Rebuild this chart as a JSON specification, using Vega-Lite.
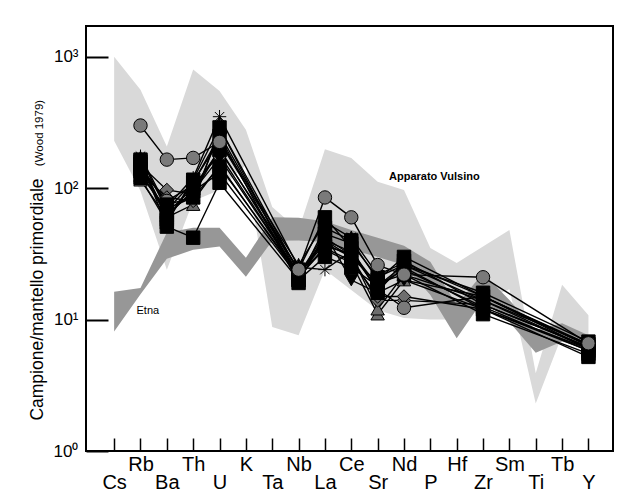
{
  "$schema": "https://vega.github.io/schema/vega-lite/v6.json",
  "width": 527,
  "height": 425,
  "autosize": {"type": "none"},
  "padding": {"left": 86, "top": 26, "right": 17, "bottom": 46},
  "background": "white",
  "config": {
    "view": {"stroke": "black", "strokeWidth": 2},
    "font": "Liberation Sans",
    "axis": {"labelFont": "Liberation Sans", "titleFont": "Liberation Sans"}
  },
  "datasets": {
    "vulsino": [
      {"el": "Cs", "v": 1000, "v2": 230}, {"el": "Rb", "v": 560, "v2": 95}, {"el": "Ba", "v": 208, "v2": 24},
      {"el": "Th", "v": 800, "v2": 80}, {"el": "U", "v": 550, "v2": 97}, {"el": "K", "v": 278, "v2": 150},
      {"el": "Ta", "v": 72, "v2": 8.8}, {"el": "Nb", "v": 48, "v2": 7.6}, {"el": "La", "v": 198, "v2": 24},
      {"el": "Ce", "v": 170, "v2": 16.8}, {"el": "Sr", "v": 112, "v2": 11.8}, {"el": "Nd", "v": 97, "v2": 10.3},
      {"el": "P", "v": 35, "v2": 10}, {"el": "Hf", "v": 27, "v2": 10}, {"el": "Zr", "v": 36, "v2": 14},
      {"el": "Sm", "v": 48, "v2": 17}, {"el": "Ti", "v": 3.9, "v2": 2.3}, {"el": "Tb", "v": 18.4, "v2": 7.6},
      {"el": "Y", "v": 10.8, "v2": 7.0}
    ],
    "etna": [
      {"el": "Cs", "v": 16.3, "v2": 8.1}, {"el": "Rb", "v": 17.4, "v2": 15.6}, {"el": "Ba", "v": 46, "v2": 29},
      {"el": "Th", "v": 50, "v2": 34}, {"el": "U", "v": 50, "v2": 36}, {"el": "K", "v": 29.5, "v2": 21.2},
      {"el": "Ta", "v": 60, "v2": 39.8}, {"el": "Nb", "v": 59.5, "v2": 40}, {"el": "La", "v": 56, "v2": 39},
      {"el": "Ce", "v": 48, "v2": 34}, {"el": "Sr", "v": 42, "v2": 30}, {"el": "Nd", "v": 36.4, "v2": 26},
      {"el": "P", "v": 27.5, "v2": 15.4}, {"el": "Hf", "v": 12.9, "v2": 7.2}, {"el": "Zr", "v": 22.6, "v2": 14.1},
      {"el": "Sm", "v": 14.1, "v2": 9.6}, {"el": "Ti", "v": 8.3, "v2": 5.6}, {"el": "Tb", "v": 9.4, "v2": 6.8},
      {"el": "Y", "v": 7.6, "v2": 5.9}
    ],
    "samples": [
      {"s": "T1", "el": "Rb", "v": 115}, {"s": "T1", "el": "Ba", "v": 60}, {"s": "T1", "el": "Th", "v": 75}, {"s": "T1", "el": "U", "v": 290}, {"s": "T1", "el": "Nb", "v": 23}, {"s": "T1", "el": "La", "v": 34}, {"s": "T1", "el": "Ce", "v": 27}, {"s": "T1", "el": "Sr", "v": 11}, {"s": "T1", "el": "Nd", "v": 20}, {"s": "T1", "el": "Zr", "v": 15}, {"s": "T1", "el": "Y", "v": 6.3},
      {"s": "T2", "el": "Rb", "v": 125}, {"s": "T2", "el": "Ba", "v": 70}, {"s": "T2", "el": "Th", "v": 85}, {"s": "T2", "el": "U", "v": 260}, {"s": "T2", "el": "Nb", "v": 22}, {"s": "T2", "el": "La", "v": 42}, {"s": "T2", "el": "Ce", "v": 31}, {"s": "T2", "el": "Sr", "v": 12}, {"s": "T2", "el": "Nd", "v": 22}, {"s": "T2", "el": "Zr", "v": 14}, {"s": "T2", "el": "Y", "v": 6.0},
      {"s": "D1", "el": "Rb", "v": 150}, {"s": "D1", "el": "Ba", "v": 97}, {"s": "D1", "el": "Th", "v": 90}, {"s": "D1", "el": "U", "v": 200}, {"s": "D1", "el": "Nb", "v": 22}, {"s": "D1", "el": "La", "v": 38}, {"s": "D1", "el": "Ce", "v": 30}, {"s": "D1", "el": "Sr", "v": 14}, {"s": "D1", "el": "Nd", "v": 14}, {"s": "D1", "el": "Zr", "v": 13}, {"s": "D1", "el": "Y", "v": 6.2},
      {"s": "D2", "el": "Rb", "v": 130}, {"s": "D2", "el": "Ba", "v": 85}, {"s": "D2", "el": "Th", "v": 80}, {"s": "D2", "el": "U", "v": 150}, {"s": "D2", "el": "Nb", "v": 21}, {"s": "D2", "el": "La", "v": 35}, {"s": "D2", "el": "Ce", "v": 28}, {"s": "D2", "el": "Sr", "v": 15}, {"s": "D2", "el": "Nd", "v": 15}, {"s": "D2", "el": "Zr", "v": 12}, {"s": "D2", "el": "Y", "v": 5.8},
      {"s": "C2", "el": "Rb", "v": 140}, {"s": "C2", "el": "Ba", "v": 80}, {"s": "C2", "el": "Th", "v": 105}, {"s": "C2", "el": "U", "v": 180}, {"s": "C2", "el": "Nb", "v": 22}, {"s": "C2", "el": "La", "v": 40}, {"s": "C2", "el": "Ce", "v": 33}, {"s": "C2", "el": "Sr", "v": 17}, {"s": "C2", "el": "Nd", "v": 12.3}, {"s": "C2", "el": "Zr", "v": 15}, {"s": "C2", "el": "Y", "v": 6.0},
      {"s": "S1", "el": "Rb", "v": 165}, {"s": "S1", "el": "Ba", "v": 51}, {"s": "S1", "el": "Th", "v": 42}, {"s": "S1", "el": "U", "v": 110}, {"s": "S1", "el": "Nb", "v": 20}, {"s": "S1", "el": "La", "v": 30}, {"s": "S1", "el": "Ce", "v": 25}, {"s": "S1", "el": "Sr", "v": 18}, {"s": "S1", "el": "Nd", "v": 24}, {"s": "S1", "el": "Zr", "v": 12.5}, {"s": "S1", "el": "Y", "v": 5.8},
      {"s": "S2", "el": "Rb", "v": 120}, {"s": "S2", "el": "Ba", "v": 55}, {"s": "S2", "el": "Th", "v": 116}, {"s": "S2", "el": "U", "v": 290}, {"s": "S2", "el": "Nb", "v": 20}, {"s": "S2", "el": "La", "v": 50}, {"s": "S2", "el": "Ce", "v": 40}, {"s": "S2", "el": "Sr", "v": 20}, {"s": "S2", "el": "Nd", "v": 30}, {"s": "S2", "el": "Zr", "v": 15}, {"s": "S2", "el": "Y", "v": 6.5},
      {"s": "S3", "el": "Rb", "v": 140}, {"s": "S3", "el": "Ba", "v": 65}, {"s": "S3", "el": "Th", "v": 100}, {"s": "S3", "el": "U", "v": 195}, {"s": "S3", "el": "Nb", "v": 24}, {"s": "S3", "el": "La", "v": 60}, {"s": "S3", "el": "Ce", "v": 35}, {"s": "S3", "el": "Sr", "v": 16}, {"s": "S3", "el": "Nd", "v": 28}, {"s": "S3", "el": "Zr", "v": 13}, {"s": "S3", "el": "Y", "v": 6.2},
      {"s": "S4", "el": "Rb", "v": 150}, {"s": "S4", "el": "Ba", "v": 75}, {"s": "S4", "el": "Th", "v": 85}, {"s": "S4", "el": "U", "v": 146}, {"s": "S4", "el": "Nb", "v": 22}, {"s": "S4", "el": "La", "v": 40}, {"s": "S4", "el": "Ce", "v": 30}, {"s": "S4", "el": "Sr", "v": 19}, {"s": "S4", "el": "Nd", "v": 22}, {"s": "S4", "el": "Zr", "v": 11}, {"s": "S4", "el": "Y", "v": 5.5},
      {"s": "S5", "el": "Rb", "v": 160}, {"s": "S5", "el": "Ba", "v": 58}, {"s": "S5", "el": "Th", "v": 110}, {"s": "S5", "el": "U", "v": 250}, {"s": "S5", "el": "Nb", "v": 19}, {"s": "S5", "el": "La", "v": 45}, {"s": "S5", "el": "Ce", "v": 38}, {"s": "S5", "el": "Sr", "v": 21}, {"s": "S5", "el": "Nd", "v": 26}, {"s": "S5", "el": "Zr", "v": 16}, {"s": "S5", "el": "Y", "v": 6.8},
      {"s": "S6", "el": "Rb", "v": 135}, {"s": "S6", "el": "Ba", "v": 62}, {"s": "S6", "el": "Th", "v": 95}, {"s": "S6", "el": "U", "v": 130}, {"s": "S6", "el": "Nb", "v": 21}, {"s": "S6", "el": "La", "v": 36}, {"s": "S6", "el": "Ce", "v": 32}, {"s": "S6", "el": "Sr", "v": 17}, {"s": "S6", "el": "Nd", "v": 25}, {"s": "S6", "el": "Zr", "v": 12}, {"s": "S6", "el": "Y", "v": 5.2},
      {"s": "V1", "el": "Rb", "v": 155}, {"s": "V1", "el": "Ba", "v": 62}, {"s": "V1", "el": "Th", "v": 95}, {"s": "V1", "el": "U", "v": 170}, {"s": "V1", "el": "Nb", "v": 22}, {"s": "V1", "el": "La", "v": 45}, {"s": "V1", "el": "Ce", "v": 20}, {"s": "V1", "el": "Sr", "v": 16}, {"s": "V1", "el": "Nd", "v": 20}, {"s": "V1", "el": "Zr", "v": 12}, {"s": "V1", "el": "Y", "v": 6.0},
      {"s": "X1", "el": "Rb", "v": 170}, {"s": "X1", "el": "Ba", "v": 68}, {"s": "X1", "el": "Th", "v": 112}, {"s": "X1", "el": "U", "v": 230}, {"s": "X1", "el": "Nb", "v": 26}, {"s": "X1", "el": "La", "v": 55}, {"s": "X1", "el": "Ce", "v": 42}, {"s": "X1", "el": "Sr", "v": 22}, {"s": "X1", "el": "Nd", "v": 27}, {"s": "X1", "el": "Zr", "v": 15}, {"s": "X1", "el": "Y", "v": 6.4},
      {"s": "A1", "el": "Rb", "v": 175}, {"s": "A1", "el": "Ba", "v": 72}, {"s": "A1", "el": "Th", "v": 120}, {"s": "A1", "el": "U", "v": 350}, {"s": "A1", "el": "Nb", "v": 25}, {"s": "A1", "el": "La", "v": 24}, {"s": "A1", "el": "Ce", "v": 33}, {"s": "A1", "el": "Sr", "v": 18}, {"s": "A1", "el": "Nd", "v": 26}, {"s": "A1", "el": "Zr", "v": 14}, {"s": "A1", "el": "Y", "v": 6.5},
      {"s": "C1", "el": "Rb", "v": 300}, {"s": "C1", "el": "Ba", "v": 165}, {"s": "C1", "el": "Th", "v": 170}, {"s": "C1", "el": "U", "v": 225}, {"s": "C1", "el": "Nb", "v": 24}, {"s": "C1", "el": "La", "v": 85}, {"s": "C1", "el": "Ce", "v": 60}, {"s": "C1", "el": "Sr", "v": 26}, {"s": "C1", "el": "Nd", "v": 22}, {"s": "C1", "el": "Zr", "v": 21}, {"s": "C1", "el": "Y", "v": 6.6}
    ],
    "note1": [{"label": "Apparato Vulsino", "el": "P", "v": 122}],
    "note2": [{"label": "Etna", "el": "Rb", "v": 11.7}]
  },
  "encoding": {
    "x": {
      "field": "el",
      "type": "ordinal",
      "sort": ["Cs", "Rb", "Ba", "Th", "U", "K", "Ta", "Nb", "La", "Ce", "Sr", "Nd", "P", "Hf", "Zr", "Sm", "Ti", "Tb", "Y"],
      "scale": {
        "type": "point",
        "domain": ["Cs", "Rb", "Ba", "Th", "U", "K", "Ta", "Nb", "La", "Ce", "Sr", "Nd", "P", "Hf", "Zr", "Sm", "Ti", "Tb", "Y"],
        "padding": 1.034,
        "align": 0.534
      },
      "axis": {
        "title": null,
        "labelAngle": 0,
        "labelFontSize": 20,
        "labelColor": "black",
        "labelAlign": "center",
        "labelBaseline": "top",
        "labelPadding": {
          "condition": {"test": "indexof(['Cs','Ba','U','Ta','La','Sr','P','Zr','Ti','Y'], datum.value) >= 0", "value": 34},
          "value": 16
        },
        "labelOverlap": false,
        "labelBound": false,
        "labelFlush": false,
        "domain": false,
        "grid": false,
        "ticks": true,
        "tickSize": -13,
        "tickWidth": 1.5,
        "tickColor": "black"
      }
    }
  },
  "layer": [
    {
      "encoding": {
        "y": {
          "field": "v",
          "type": "quantitative",
          "scale": {"type": "log", "domain": [1, 1715], "nice": false},
          "axis": {
            "orient": "left",
            "values": [1, 10, 100, 1000],
            "labelExpr": "'10' + (datum.value >= 1000 ? '³' : datum.value >= 100 ? '²' : datum.value >= 10 ? '¹' : '⁰')",
            "labelFontSize": 17,
            "labelColor": "black",
            "labelPadding": 30,
            "labelAlign": "right",
            "labelBaseline": "middle",
            "labelOverlap": false,
            "tickSize": -22,
            "tickWidth": 2,
            "tickColor": "black",
            "domain": false,
            "grid": false,
            "title": "Campione/mantello primordiale",
            "titleFontSize": 17.5,
            "titleFontWeight": "normal",
            "titleColor": "black",
            "titleAngle": -90,
            "titleX": -44,
            "titleY": 273,
            "titleAlign": "center",
            "titleBaseline": "alphabetic"
          }
        }
      },
      "layer": [
        {
          "data": {"name": "vulsino"},
          "mark": {"type": "area", "color": "#d9d9d9", "opacity": 1},
          "encoding": {"y2": {"field": "v2"}}
        },
        {
          "data": {"name": "etna"},
          "mark": {"type": "area", "color": "#979797", "opacity": 1},
          "encoding": {"y2": {"field": "v2"}}
        },
        {
          "data": {"name": "samples"},
          "mark": {"type": "line", "color": "black", "strokeWidth": 1.4},
          "encoding": {"detail": {"field": "s", "type": "nominal"}}
        },
        {
          "data": {"name": "samples"},
          "mark": {"type": "point", "filled": true, "stroke": "black", "strokeWidth": 1, "opacity": 1},
          "encoding": {
            "shape": {
              "field": "s",
              "type": "nominal",
              "legend": null,
              "scale": {
                "domain": ["T1", "T2", "D1", "D2", "C2", "S1", "S2", "S3", "S4", "S5", "S6", "V1", "X1", "A1", "C1"],
                "range": ["triangle-up", "triangle-up", "diamond", "diamond", "circle",
                  "square", "square", "square", "square", "square", "square", "triangle-down",
                  "M0,-1L0.21,-0.51L0.71,-0.71L0.51,-0.21L1,0L0.51,0.21L0.71,0.71L0.21,0.51L0,1L-0.21,0.51L-0.71,0.71L-0.51,0.21L-1,0L-0.51,-0.21L-0.71,-0.71L-0.21,-0.51Z",
                  "M-1,0L1,0M0,-1L0,1M-0.7,-0.7L0.7,0.7M-0.7,0.7L0.7,-0.7",
                  "circle"]
              }
            },
            "fill": {
              "field": "s",
              "type": "nominal",
              "legend": null,
              "scale": {
                "domain": ["T1", "T2", "D1", "D2", "C2", "S1", "S2", "S3", "S4", "S5", "S6", "V1", "X1", "A1", "C1"],
                "range": ["#6e6e6e", "#6e6e6e", "#6e6e6e", "#6e6e6e", "#7a7a7a", "#000000", "#000000", "#000000", "#000000", "#000000", "#000000", "#000000", "#000000", "#000000", "#7a7a7a"]
              }
            },
            "size": {
              "field": "s",
              "type": "nominal",
              "legend": null,
              "scale": {
                "domain": ["T1", "T2", "D1", "D2", "C2", "S1", "S2", "S3", "S4", "S5", "S6", "V1", "X1", "A1", "C1"],
                "range": [180, 180, 180, 180, 100, 225, 225, 225, 225, 225, 225, 180, 260, 300, 100]
              }
            }
          }
        }
      ]
    },
    {
      "encoding": {
        "y": {
          "field": "v",
          "type": "quantitative",
          "scale": {"type": "log", "domain": [1, 1715], "nice": false},
          "axis": {
            "orient": "left",
            "labels": false,
            "ticks": false,
            "domain": false,
            "grid": false,
            "title": "(Wood 1979)",
            "titleFontSize": 11.5,
            "titleFontWeight": "normal",
            "titleColor": "black",
            "titleAngle": -90,
            "titleX": -44,
            "titleY": 106.5,
            "titleAlign": "center",
            "titleBaseline": "alphabetic"
          }
        },
        "text": {"field": "label", "type": "nominal"}
      },
      "layer": [
        {
          "data": {"name": "note1"},
          "mark": {"type": "text", "font": "Liberation Sans", "fontSize": 11, "fontWeight": "bold", "color": "black", "align": "center", "baseline": "middle", "dx": 4}
        },
        {
          "data": {"name": "note2"},
          "mark": {"type": "text", "font": "Liberation Sans", "fontSize": 11, "fontWeight": "normal", "color": "black", "align": "left", "baseline": "middle", "dx": -4}
        }
      ]
    }
  ],
  "resolve": {"scale": {"y": "independent"}, "axis": {"y": "independent"}}
}
